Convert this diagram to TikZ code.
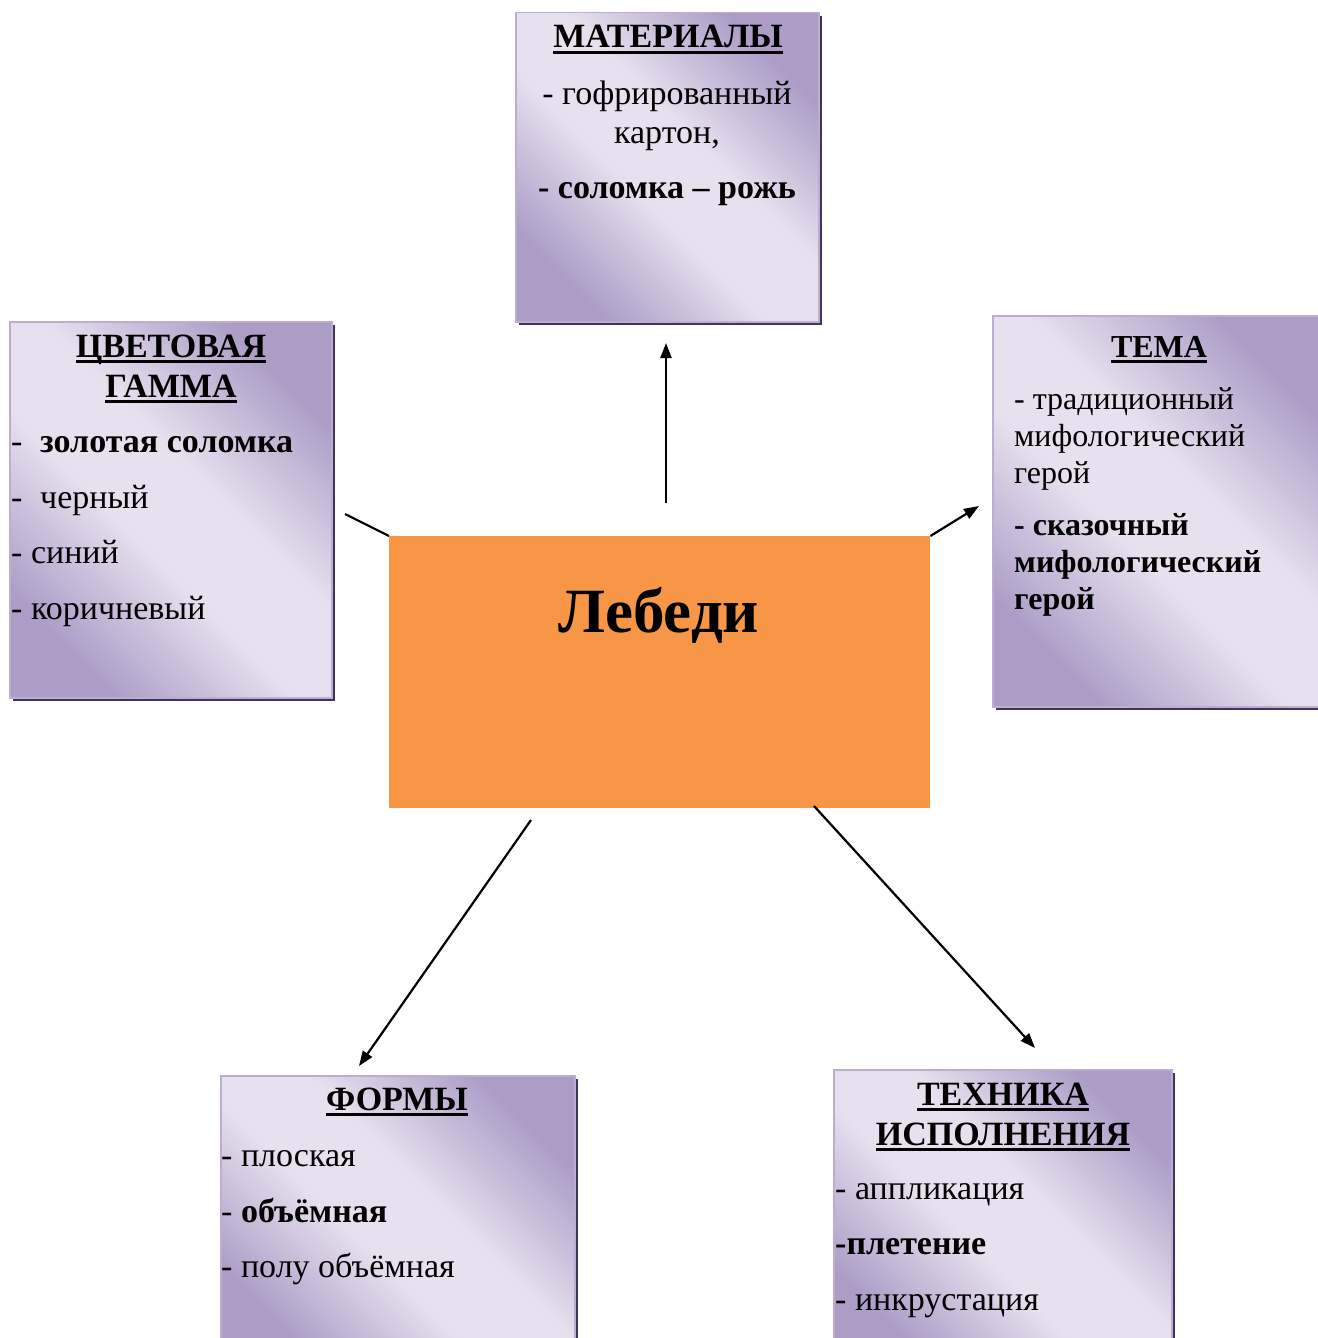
\documentclass[tikz,border=0pt]{standalone}
\usepackage{fontspec}
\setmainfont{Liberation Serif}
\usetikzlibrary{arrows.meta,shadows}
\definecolor{pd}{RGB}{172,156,198}
\definecolor{pl}{RGB}{231,225,239}
\definecolor{bord}{RGB}{188,174,210}
\definecolor{shd}{RGB}{66,52,92}
\definecolor{orng}{RGB}{247,150,70}
\pgfdeclarehorizontalshading{boxsh}{100bp}{color(0bp)=(pd); color(25bp)=(pd); color(44bp)=(pl); color(56bp)=(pl); color(75bp)=(pd); color(100bp)=(pd)}
\newsavebox\hdbox
\newcommand\hdul[1]{\sbox\hdbox{#1}\rlap{\rule[-6pt]{\wd\hdbox}{3pt}}\usebox\hdbox}
\tikzset{
  pbox/.style={draw=bord, line width=1.5pt, shading=boxsh, shading angle=45,
    anchor=north west, inner sep=0pt,
    general shadow={fill=shd, shadow xshift=3.5pt, shadow yshift=-3.5pt}},
  txt/.style={inner sep=0pt, anchor=base west, font=\fontsize{34}{40}\selectfont},
  ctxt/.style={txt, anchor=base},
  hd/.style={ctxt, font=\fontsize{34}{40}\selectfont\bfseries},
  ttxt/.style={txt, font=\fontsize{32}{38}\selectfont},
  tbtxt/.style={txt, font=\fontsize{32}{38}\selectfont\bfseries},
  arr/.style={line width=2.2pt, -{Triangle[length=15pt,width=11pt]}},
  ln/.style={line width=2.2pt}
}
\begin{document}
\begin{tikzpicture}[x=1pt,y=-1pt]
\useasboundingbox (0,0) rectangle (1317,1338);
% boxes
\node[pbox, minimum width=303pt, minimum height=309pt] (mat) at (515,12) {};
\node[pbox, minimum width=322pt, minimum height=376pt] (gam) at (9,321) {};
\node[pbox, minimum width=335pt, minimum height=391pt] (tem) at (992,315) {};
\node[pbox, minimum width=354pt, minimum height=290pt] (frm) at (220,1075) {};
\node[pbox, minimum width=338pt, minimum height=296pt] (tec) at (833,1069) {};
\node[fill=orng, anchor=north west, inner sep=0pt, minimum width=541pt, minimum height=272pt] (ctr) at (389,536) {};
% center text
\node[ctxt, font=\fontsize{63}{70}\selectfont\bfseries] (ctrt) at (659,632) {Лебеди};
% materials
\node[hd] (mat0) at (668,48) {\hdul{МАТЕРИАЛЫ}};
\node[ctxt] (mat1) at (667,104) {- гофрированный};
\node[ctxt] (mat2) at (667,143) {картон,};
\node[ctxt, font=\fontsize{34}{40}\selectfont\bfseries] (mat3) at (667,198) {- соломка – рожь};
% colour gamma
\node[hd] (gam0) at (171,357) {\hdul{ЦВЕТОВАЯ}};
\node[hd] (gam1) at (171,397) {\hdul{ГАММА}};
\node[txt] (gam2) at (11,452) {\makebox[29pt][l]{-}\textbf{золотая соломка}};
\node[txt] (gam3) at (11,508) {\makebox[29pt][l]{-}черный};
\node[txt] (gam4) at (11,563) {- синий};
\node[txt] (gam5) at (11,619) {- коричневый};
% tema
\node[hd, font=\fontsize{32}{38}\selectfont\bfseries] (tem0) at (1159,357) {\hdul{ТЕМА}};
\node[ttxt] (tem1) at (1014,409) {- традиционный};
\node[ttxt] (tem2) at (1014,446) {мифологический};
\node[ttxt] (tem3) at (1014,483) {герой};
\node[tbtxt] (tem4) at (1014,535) {- сказочный};
\node[tbtxt] (tem5) at (1014,572) {мифологический};
\node[tbtxt] (tem6) at (1014,609) {герой};
% forms
\node[hd] (frm0) at (397,1110) {\hdul{ФОРМЫ}};
\node[txt] (frm1) at (221,1166) {- плоская};
\node[txt] (frm2) at (221,1222) {- \textbf{объёмная}};
\node[txt] (frm3) at (221,1277) {- полу объёмная};
% technique
\node[hd] (tec0) at (1003,1105) {\hdul{ТЕХНИКА}};
\node[hd] (tec1) at (1003,1145) {\hdul{ИСПОЛНЕНИЯ}};
\node[txt] (tec2) at (835,1199) {- аппликация};
\node[txt, font=\fontsize{34}{40}\selectfont\bfseries] (tec3) at (835,1254) {-плетение};
\node[txt] (tec4) at (835,1310) {- инкрустация};
% connector ends
\coordinate (up0) at (666,503);
\coordinate (up1) at (666,343);
\coordinate (gl0) at (345,514);
\coordinate (tr1) at (979,506);
\coordinate (bl0) at (531,820);
\coordinate (bl1) at (359,1066);
\coordinate (br0) at (814,806);
\coordinate (br1) at (1035,1048);
\draw[arr] (up0) -- (up1);
\draw[ln] (gl0) -- (ctr.north west);
\draw[arr] (ctr.north east) -- (tr1);
\draw[arr] (bl0) -- (bl1);
\draw[arr] (br0) -- (br1);
\end{tikzpicture}
\end{document}
